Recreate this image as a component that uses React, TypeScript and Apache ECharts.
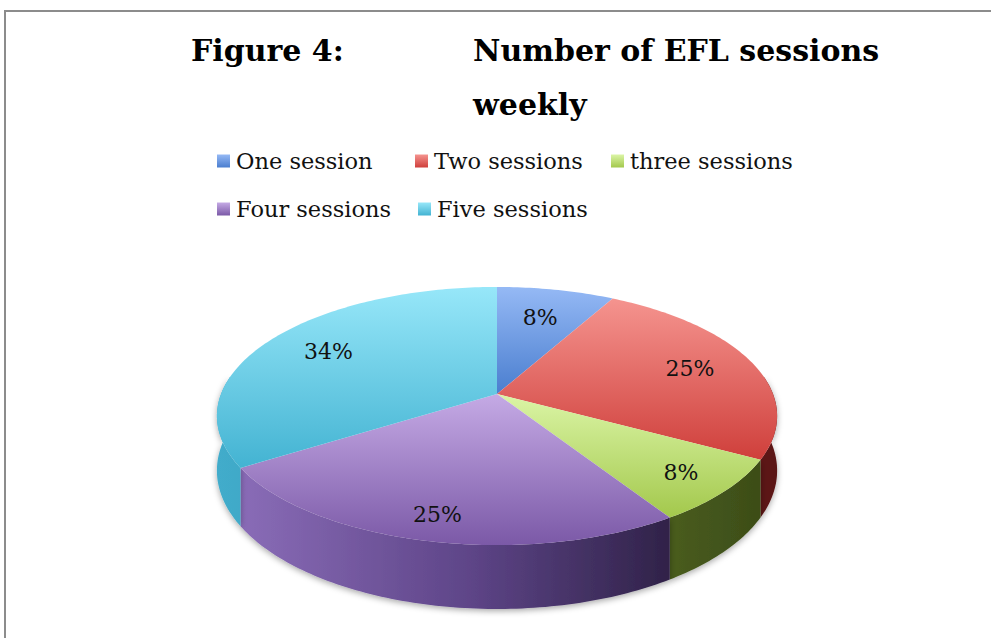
import React, { useEffect, useRef } from "react";
import * as echarts from "echarts";

// ---- Data ----
const categories = ["One session", "Two sessions", "three sessions", "Four sessions", "Five sessions"];
const percentValues = [8, 25, 8, 25, 34];
const titleLeft = "Figure 4:";
const titleRight = "Number of EFL sessions\nweekly";

// ---- Styles ----
const topColors = [
  ["#95B9F5", "#4A7ECF"],
  ["#F5948F", "#CF3F3B"],
  ["#DBF5A6", "#A3C84C"],
  ["#C5AAE5", "#7B59A7"],
  ["#97E7F9", "#43B3D2"],
];
const wallStops = [
  [["#6E9BE0", 0], ["#2A4F8A", 1]],
  [["#B43E3A", 0], ["#5A1313", 1]],
  [["#8AAA45", 0], ["#3A4A16", 1]],
  [["#8E70BC", 0], ["#5E4588", 0.45], ["#31234A", 0.8], ["#281C3A", 1]],
  [["#42ACCB", 0], ["#1F6E86", 1]],
];
const legendPos = [
  { left: 217, top: 147 },
  { left: 415, top: 147 },
  { left: 611, top: 147 },
  { left: 217, top: 195 },
  { left: 418, top: 195 },
];

const FONT = "'DejaVu Serif', 'Liberation Serif', serif";

// pie geometry (layout)
const CX = 497;
const CY = 394;
const RX = 276;
const RY = 125.3;
const PERSP = 0.1706;
const H0 = 53;

function proj(t: number, f: number) {
  const s = Math.sin(t);
  const c = Math.cos(t);
  const d = 1 + PERSP * f * c;
  return {
    x: CX + (RX * f * s) / d,
    y: CY - (RY * f * c) / d,
    h: H0 / d,
  };
}

function grad(stops: string[]) {
  return {
    type: "linear",
    x: 0,
    y: 0,
    x2: 0,
    y2: 1,
    colorStops: [
      { offset: 0, color: stops[0] },
      { offset: 1, color: stops[1] },
    ],
  };
}

export default function App() {
  const ref = useRef<HTMLDivElement>(null);
  useEffect(() => {
    if (!ref.current) return;
    const chart = echarts.init(ref.current, null, { renderer: "svg" });
    const total = percentValues.reduce((a, b) => a + b, 0);
    const starts: number[] = [];
    let acc = 0;
    percentValues.forEach((v) => {
      starts.push(acc);
      acc += v;
    });

    const makeRender = (idx: number) => (params: any, api: any) => {
      const v = api.value(0);
      const t1 = (starts[idx] / total) * Math.PI * 2;
      const t2 = t1 + (v / total) * Math.PI * 2;
      const children: any[] = [];
      const step = Math.PI / 180;
      const topPts: number[][] = [[CX, CY]];
      for (let t = t1; t < t2; t += step) {
        const p = proj(t, 1);
        topPts.push([p.x, p.y]);
      }
      const pe = proj(t2, 1);
      topPts.push([pe.x, pe.y]);
      const delta = (8 * Math.PI) / 180;
      const w1 = Math.max(t1, Math.PI / 2 - delta);
      const w2 = Math.min(t2, (3 * Math.PI) / 2 + delta);
      if (w2 > w1) {
        const upper: number[][] = [];
        const lower: number[][] = [];
        const ts: number[] = [];
        for (let t = w1; t < w2; t += step) ts.push(t);
        ts.push(w2);
        ts.forEach((t) => {
          const p = proj(t, 1);
          upper.push([p.x, p.y]);
          lower.push([p.x, p.y + p.h]);
        });
        const pts = upper.concat(lower.reverse());
        children.push({
          type: "polygon",
          z2: 1,
          shape: { points: pts },
          style: {
            fill: {
              type: "linear",
              global: true,
              x: CX - RX - 4,
              y: 0,
              x2: CX + RX + 4,
              y2: 0,
              colorStops: wallStops[idx].map((s: any) => ({ offset: s[1], color: s[0] })),
            },
            shadowBlur: 6,
            shadowColor: "rgba(0,0,0,0.35)",
            shadowOffsetY: 2,
          },
        });
      }
      children.push({
        type: "polygon",
        z2: 10,
        shape: { points: topPts },
        style: { fill: grad(topColors[idx]) },
      });
      const tm = (t1 + t2) / 2;
      const front = (1 - Math.cos(tm)) / 2;
      const lp = proj(tm, 0.7 + 0.15 * front);
      children.push({
        type: "text",
        z2: 20,
        x: lp.x,
        y: lp.y,
        style: {
          text: Math.round((v / total) * 100) + "%",
          fontSize: 22,
          fontFamily: FONT,
          fill: "#111",
          align: "center",
          verticalAlign: "middle",
        },
      });
      return { type: "group", children };
    };

    const series = categories.map((name, idx) => ({
      type: "custom",
      name,
      coordinateSystem: "none",
      renderItem: makeRender(idx),
      data: [[percentValues[idx]]],
      itemStyle: { color: grad(topColors[idx]) },
      silent: true,
    }));

    const titleStyle = { fontFamily: FONT, fontSize: 30, fontWeight: "bold", color: "#000", lineHeight: 54 };
    chart.setOption({
      animation: false,
      backgroundColor: "#ffffff",
      title: [
        { text: titleLeft, left: 191, top: 23, padding: 0, textStyle: titleStyle },
        { text: titleRight, left: 473, top: 23, padding: 0, textStyle: titleStyle },
      ],
      legend: categories.map((name, idx) => ({
        data: [{ name, itemStyle: { color: grad(topColors[idx]) } }],
        left: legendPos[idx].left,
        top: legendPos[idx].top,
        padding: 0,
        icon: "rect",
        itemWidth: 13,
        itemHeight: 13,
        selectedMode: false,
        textStyle: { fontFamily: FONT, fontSize: 22.5, color: "#111", lineHeight: 28, padding: [0, 0, 0, 1] },
      })),
      graphic: [
        {
          type: "rect",
          shape: { x: 5, y: 11, width: 1100, height: 800 },
          style: { fill: "none", stroke: "#8c8c8c", lineWidth: 2 },
          silent: true,
        },
      ],
      series,
    });
    return () => chart.dispose();
  }, []);
  return <div ref={ref} style={{ width: 991, height: 638, position: "absolute", left: 0, top: 0 }} />;
}
